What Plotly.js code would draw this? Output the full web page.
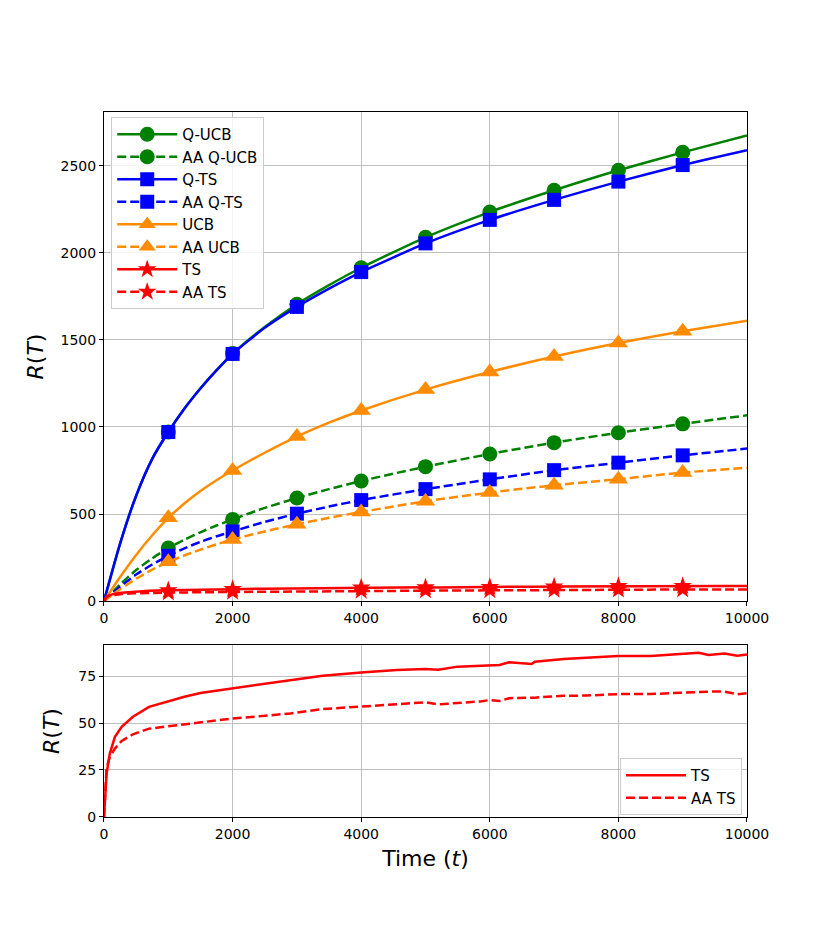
<!DOCTYPE html>
<html>
<head>
<meta charset="utf-8">
<script src="https://cdn.plot.ly/plotly-3.0.1.min.js"></script>
<style>html,body{margin:0;padding:0;background:#fff;}#chart{width:830px;height:934px;}</style>
</head>
<body>
<div id="chart"></div>
<script>
// ---- data ----
const steps = [0, 250, 500, 750, 1000, 1250, 1500, 1750, 2000, 2500, 3000, 3500, 4000, 5000, 6000, 7000, 8000, 9000, 10000];
const qucb   = [0, 330, 605, 817, 971, 1106, 1223, 1327, 1422, 1575, 1705, 1815, 1915, 2090, 2235, 2360, 2475, 2578, 2675];
const aaQucb = [0, 95, 178, 245, 305, 352, 395, 434, 469, 535, 592, 643, 690, 772, 845, 910, 967, 1018, 1067];
const qts    = [0, 330, 605, 817, 971, 1105, 1221, 1325, 1420, 1570, 1690, 1795, 1890, 2055, 2190, 2305, 2410, 2505, 2590];
const aaQts  = [0, 82, 152, 210, 260, 303, 340, 372, 400, 455, 502, 543, 580, 643, 699, 752, 795, 837, 876];
const ucb    = [0, 138, 265, 378, 478, 560, 632, 694, 750, 852, 945, 1025, 1095, 1215, 1316, 1405, 1483, 1550, 1610];
const aaUcb  = [0, 68, 128, 180, 225, 262, 295, 326, 354, 400, 441, 478, 512, 573, 623, 665, 700, 738, 766];

const tsSteps = [0, 15, 40, 90, 170, 275, 450, 700, 1000, 1250, 1500, 2000, 2500, 2900, 3400, 4000, 4550, 5000, 5200, 5500,
                 5850, 6000, 6150, 6300, 6650, 6700, 7000, 7150, 7500, 8000, 8500, 8900, 9000, 9250, 9400, 9650, 9850, 10000];
const ts      = [0, 10.6, 23, 33.7, 42.6, 48, 53.3, 58.6, 61.6, 64, 66, 68.4, 71, 72.9, 75.2, 76.9, 78.2, 78.7, 78.3, 80,
                 80.5, 80.7, 80.9, 82.3, 81.4, 82.6, 83.6, 84, 84.7, 85.6, 85.6, 86.5, 86.7, 87.4, 86.2, 87, 85.8, 86.5];
const aaTs    = [0, 12, 26, 32, 36.4, 40.5, 44, 47, 48.3, 49.4, 50.6, 52.4, 53.8, 55.1, 57.4, 58.7, 59.8, 61, 59.9, 60.6,
                 61.5, 62.2, 61.7, 63.2, 63.3, 63.5, 64.2, 64.5, 64.6, 65.4, 65.4, 66, 66.2, 66.7, 66.7, 66.7, 65.3, 65.8];

const xTicks = [0, 2000, 4000, 6000, 8000, 10000];
const xTickText = ['0', '2000', '4000', '6000', '8000', '10000'];

// ---- helpers ----
const DASH = '9px,4px';
function markSizes(xs, size) {
  return xs.map(v => (v > 0 && v < 10000 && v % 1000 === 0) ? size : 0);
}
const series = [
  ['Q-UCB', steps, qucb, 'green', 'solid', 'circle', 15, 'spline'],
  ['AA Q-UCB', steps, aaQucb, 'green', DASH, 'circle', 15, 'spline'],
  ['Q-TS', steps, qts, 'blue', 'solid', 'square', 14, 'spline'],
  ['AA Q-TS', steps, aaQts, 'blue', DASH, 'square', 14, 'spline'],
  ['UCB', steps, ucb, 'darkorange', 'solid', 'triangle-up', 17, 'spline'],
  ['AA UCB', steps, aaUcb, 'darkorange', DASH, 'triangle-up', 17, 'spline'],
  ['TS', tsSteps, ts, 'red', 'solid', 'star', 14, 'linear'],
  ['AA TS', tsSteps, aaTs, 'red', DASH, 'star', 14, 'linear']
];
const traces = [];
series.forEach(([name, xs, ys, color, dash, symbol, size, shape]) => {
  traces.push({
    type: 'scatter', mode: 'lines+markers', name: name, x: xs, y: ys,
    xaxis: 'x', yaxis: 'y', showlegend: false,
    line: {color: color, width: 2.5, dash: dash, shape: shape, smoothing: 0.6},
    marker: {color: color, symbol: symbol, size: markSizes(xs, size), opacity: 1, line: {width: 0}}
  });
});
// legend entries (no visible marks)
series.forEach(([name, xs, ys, color, dash, symbol, size]) => {
  traces.push({
    type: 'scatter', mode: 'lines+markers', name: name, x: [null], y: [null],
    xaxis: 'x', yaxis: 'y', legend: 'legend', legendgroup: name, hoverinfo: 'skip',
    line: {color: color, width: 2.5, dash: dash},
    marker: {color: color, symbol: symbol, size: Math.min(size, 15), line: {width: 0}}
  });
});
traces.push(
  {type: 'scatter', mode: 'lines', name: 'TS', x: tsSteps, y: ts, xaxis: 'x2', yaxis: 'y2',
   legend: 'legend2', line: {color: 'red', width: 2.5}},
  {type: 'scatter', mode: 'lines', name: 'AA TS', x: tsSteps, y: aaTs, xaxis: 'x2', yaxis: 'y2',
   legend: 'legend2', line: {color: 'red', width: 2.5, dash: DASH}}
);

const FONT = 'DejaVu Sans, sans-serif';
const axisBase = {
  showline: true, linecolor: 'black', linewidth: 1, mirror: true,
  ticks: 'outside', ticklen: 4, tickwidth: 1, tickcolor: 'black',
  showgrid: true, gridcolor: '#b0b0b0', gridwidth: 0.8, zeroline: false,
  tickfont: {family: FONT, size: 14, color: 'black'}
};
const layout = {
  width: 830, height: 934,
  margin: {l: 0, r: 0, t: 0, b: 0},
  paper_bgcolor: 'white', plot_bgcolor: 'white',
  font: {family: FONT, color: 'black'},
  showlegend: true,
  xaxis: Object.assign({}, axisBase, {domain: [0.1253, 0.9], range: [0, 10000], tickvals: xTicks, ticktext: xTickText, anchor: 'y'}),
  yaxis: Object.assign({}, axisBase, {domain: [0.3565, 0.8801], range: [0, 2810], dtick: 500, anchor: 'x',
    title: {text: '<i>R</i>(<i>T</i>)', font: {family: FONT, size: 22, color: 'black'}, standoff: 10}}),
  xaxis2: Object.assign({}, axisBase, {domain: [0.1253, 0.9], range: [0, 10000], tickvals: xTicks, ticktext: xTickText, anchor: 'y2',
    title: {text: 'Time (<i>t</i>)', font: {family: FONT, size: 22, color: 'black'}, standoff: 9}}),
  yaxis2: Object.assign({}, axisBase, {domain: [0.1253, 0.3094], range: [0, 91.5], tickvals: [0, 25, 50, 75], anchor: 'x2',
    title: {text: '<i>R</i>(<i>T</i>)', font: {family: FONT, size: 22, color: 'black'}, standoff: 12}}),
  legend: {
    x: 0.134, y: 0.8747, xanchor: 'left', yanchor: 'top',
    bgcolor: 'rgba(255,255,255,0.8)', bordercolor: '#cccccc', borderwidth: 1,
    font: {family: FONT, size: 15, color: 'black'},
    itemwidth: 60, traceorder: 'grouped', tracegroupgap: 0
  },
  legend2: {
    x: 0.747, y: 0.1884, xanchor: 'left', yanchor: 'top',
    bgcolor: 'rgba(255,255,255,0.8)', bordercolor: '#cccccc', borderwidth: 1,
    itemwidth: 60,
    font: {family: FONT, size: 15, color: 'black'}
  }
};
Plotly.newPlot('chart', traces, layout, {staticPlot: true, displayModeBar: false});
</script>
</body>
</html>
